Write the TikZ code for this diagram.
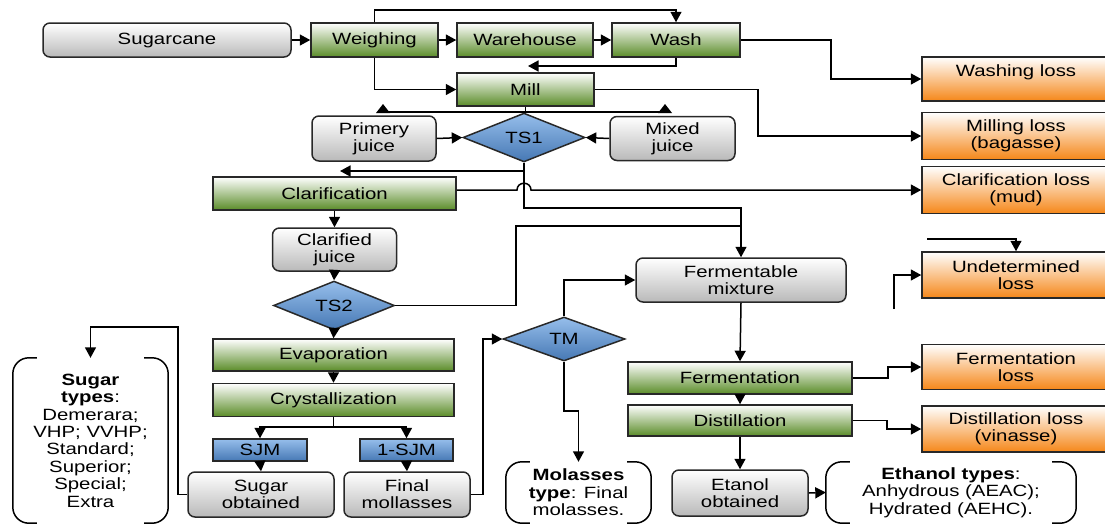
\documentclass[tikz,border=0pt]{standalone}
\usepackage{fontspec}
\setmainfont{Liberation Sans}[FakeStretch=1.25]
\usetikzlibrary{shapes.geometric,arrows.meta}
\definecolor{boxline}{RGB}{40,40,40}
\definecolor{grayb}{RGB}{185,185,185}
\definecolor{greenb}{RGB}{90,140,40}
\definecolor{orangeb}{RGB}{245,135,25}
\definecolor{bluet}{RGB}{150,190,235}
\definecolor{blueb}{RGB}{70,120,180}
\begin{document}
\begin{tikzpicture}[x=1pt,y=-1pt,
  font=\fontsize{16.3}{16.8}\selectfont,
  box/.style={draw=boxline, line width=1.5pt, inner sep=0pt, align=center, text=black},
  graybox/.style={box, rounded corners=7pt, top color=white, bottom color=grayb},
  greenbox/.style={box, top color=white, bottom color=greenb},
  orangebox/.style={box, top color=white, bottom color=orangeb, minimum width=188},
  bluebox/.style={box, top color=bluet, bottom color=blueb},
  decision/.style={box, diamond, top color=bluet, bottom color=blueb},
  textholder/.style={inner sep=0pt, align=center, font=\fontsize{16.3}{17.4}\selectfont},
  conn/.style={line width=1.5pt, draw=black},
  arr/.style={conn, -{Triangle[length=10.5pt,width=11pt]}},
  brk/.style={line width=1.5pt, rounded corners=16pt},
  tri/.style={fill=black}
]
\useasboundingbox (0,0) rectangle (1105,525);

% nodes
\node[graybox, minimum width=248, minimum height=34] (sugar) at (167,40) {Sugarcane};
\node[greenbox, minimum width=127, minimum height=34] (weigh) at (374.5,40) {Weighing};
\node[greenbox, minimum width=136, minimum height=34] (ware) at (525,40) {Warehouse};
\node[greenbox, minimum width=128, minimum height=34] (wash) at (676,40) {Wash};
\node[greenbox, minimum width=137, minimum height=33] (mill) at (525.5,89.5) {Mill};
\node[graybox, minimum width=124, minimum height=45] (pj) at (374,138.5) {Primery\\juice};
\node[decision, minimum width=122, minimum height=43] (ts1) at (524,137.5) {TS1};
\node[graybox, minimum width=125, minimum height=44] (mj) at (672.5,138.5) {Mixed\\juice};
\node[greenbox, minimum width=243, minimum height=33] (clar) at (334.5,193.5) {Clarification};
\node[graybox, minimum width=124, minimum height=43] (cj) at (334.5,249.5) {Clarified\\juice};
\node[decision, minimum width=121, minimum height=43] (ts2) at (334,305.5) {TS2};
\node[greenbox, minimum width=241, minimum height=32] (evap) at (333.5,355) {Evaporation};
\node[greenbox, minimum width=241, minimum height=33] (cryst) at (333.5,400) {Crystallization};
\node[bluebox, minimum width=94, minimum height=22] (sjm) at (260,450) {SJM};
\node[bluebox, minimum width=93, minimum height=22] (osjm) at (406.5,450) {1-SJM};
\node[graybox, minimum width=146, minimum height=45] (so) at (261,494.5) {Sugar\\obtained};
\node[graybox, minimum width=126, minimum height=45] (fm) at (407,494.5) {Final\\mollasses};
\node[decision, minimum width=122, minimum height=44] (tm) at (564,339) {TM};
\node[graybox, minimum width=210, minimum height=44] (fmix) at (741,280) {Fermentable\\mixture};
\node[greenbox, minimum width=224, minimum height=32] (ferm) at (740,378) {Fermentation};
\node[greenbox, minimum width=224, minimum height=31] (dist) at (740,420.5) {Distillation};
\node[graybox, minimum width=136, minimum height=46] (eta) at (740,493) {Etanol\\obtained};

\node[orangebox, minimum height=44] (wl) at (1016,79) {Washing loss\\\phantom{X}};
\node[orangebox, minimum height=47] (ml) at (1016,136) {Milling loss\\(bagasse)};
\node[orangebox, minimum height=47] (cl) at (1016,190) {Clarification loss\\(mud)};
\node[orangebox, minimum height=46] (ul) at (1016,275) {Undetermined\\loss};
\node[orangebox, minimum height=45] (fl) at (1016,367) {Fermentation\\loss};
\node[orangebox, minimum height=46] (dl) at (1016,429) {Distillation loss\\(vinasse)};

% bracketed text groups
\node[textholder, minimum width=155, minimum height=165] (stypes) at (90.5,440.5)
  {\textbf{Sugar}\\\textbf{types}:\\Demerara;\\VHP; VVHP;\\Standard;\\Superior;\\Special;\\Extra};
\node[textholder, minimum width=145, minimum height=61] (mol) at (578.5,492.5)
  {\textbf{Molasses}\\\textbf{type}: Final\\molasses.};
\node[textholder, minimum width=250, minimum height=61] (eth) at (951,492.5)
  {\textbf{Ethanol types}:\\Anhydrous (AEAC);\\Hydrated (AEHC).};
\foreach \b in {stypes,mol,eth}{
  \draw[brk] ([xshift=24]\b.north west) -- (\b.north west) -- (\b.south west) -- ([xshift=24]\b.south west);
  \draw[brk] ([xshift=-24]\b.north east) -- (\b.north east) -- (\b.south east) -- ([xshift=-24]\b.south east);
}

% connectors
\draw[arr] (sugar.east) -- (weigh.west);
\draw[arr] (weigh.east) -- (ware.west);
\draw[arr] (ware.east) -- (wash.west);
\draw[arr] (weigh.north) -- (374.5,10) -| (wash.north);
\draw[arr] (weigh.south) |- (mill.west);
\coordinate (millin) at (528,66);
\draw[arr] (wash.south) |- (millin);
\draw[arr] (wash.east) -- (831,40) |- (wl.west);
\draw[arr] (mill.east) -- (758,89.5) |- (ml.west);

% mill split with upward triangles
\coordinate (msplit) at (525.5,112);
\coordinate (mleft) at (383,112);
\coordinate (mright) at (665,112);
\draw[conn] (mill.south) -- (msplit);
\draw[conn] (mleft) -- (mright);
\fill[tri] (376,113) -- (390,113) -- (383,104) -- cycle;
\fill[tri] (658,113) -- (672,113) -- (665,104) -- cycle;

\draw[arr] (pj.east) -- (ts1.west);
\draw[arr] (mj.west) -- (ts1.east);
\coordinate (clarin) at (340,171);
\draw[arr] (ts1.south) |- (clarin);
\coordinate (j1) at (741,208);
\draw[arr] (ts1.south) |- (j1) -- (fmix.north);
\draw[arr] (clar.east |- cl.west) -- (517,190) .. controls (517,181) and (531,181) .. (531,190) -- (cl.west);

\draw[arr] (clar.south) -- (cj.north);
\draw[arr] (cj.south) -- (ts2.north);
\coordinate (j2) at (741,226);
\draw[conn] (ts2.east) -- (516,305.5) |- (j2);
\draw[arr] (ts2.south) -- (evap.north);
\draw[arr] (evap.south) -- (cryst.north);
\coordinate (cs) at (333.5,427);
\draw[conn] (cryst.south) -- (cs);
\draw[arr] (cs) -| (sjm.north);
\draw[arr] (cs) -| (osjm.north);
\draw[arr] (sjm.south) -- (so.north);
\draw[arr] (osjm.south) -- (fm.north);
\draw[arr] (so.west) -- (178,494.5) -- (178,327) -| (stypes.north);
\draw[arr] (fm.east) -- (483,494.5) |- (tm.west);
\draw[arr] (tm.north) |- (fmix.west);
\draw[arr] (tm.south) -- (564,411) -| (mol.north);

\draw[arr] (fmix.south) -- (ferm.north);
\draw[arr] (ferm.south) -- (dist.north);
\draw[arr] (dist.south) -- (eta.north);
\draw[arr] (eta.east) -- (eth.west);
\draw[arr] (ferm.east) -- (888,378) |- (fl.west);
\draw[arr] (dist.east) -- (887,420.5) |- (dl.west);

\coordinate (u1) at (927,239);
\draw[arr] (u1) -| (ul.north);
\coordinate (u2) at (894,309);
\draw[arr] (u2) |- (ul.west);
\end{tikzpicture}
\end{document}
